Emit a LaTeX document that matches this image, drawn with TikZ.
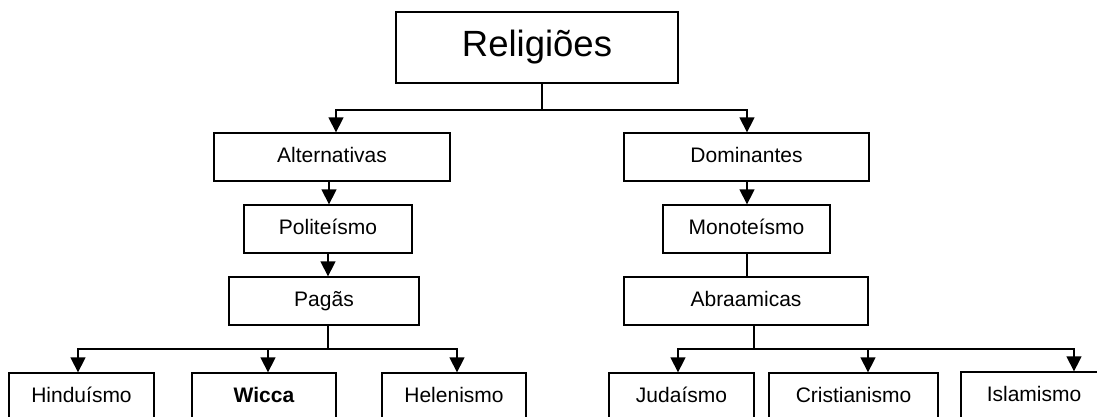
\documentclass[tikz,border=0pt]{standalone}
\usepackage{fontspec}
\setmainfont{Liberation Sans}
\usetikzlibrary{arrows.meta}
\tikzset{
  box/.style={draw=black, line width=1.3pt, fill=white, rectangle, inner sep=0pt, align=center, text height=15pt, text depth=4.5pt, font=\fontsize{21}{24}\selectfont},
  bigbox/.style={box, text height=26pt, text depth=8pt, font=\fontsize{36.5}{40}\selectfont},
  conn/.style={draw=black, line width=1.3pt},
  arr/.style={conn, -{Triangle[width=15pt,length=15pt]}}
}
\begin{document}
\begin{tikzpicture}[x=1pt,y=-1pt]
\useasboundingbox (0,0) rectangle (1097,416);
\clip (0,0) rectangle (1097,416);
\fill[white] (0,0) rectangle (1097,416);
% nodes
\node[bigbox, minimum width=282pt, minimum height=71pt] (rel) at (537,47.5) {Religiões};
\node[box, minimum width=236pt, minimum height=48pt] (alt) at (332,157) {Alternativas};
\node[box, minimum width=168pt, minimum height=48pt] (pol) at (328,229) {Politeísmo};
\node[box, minimum width=190pt, minimum height=48pt] (pag) at (324,301) {Pagãs};
\node[box, minimum width=145pt, minimum height=48pt] (hin) at (81.5,397) {Hinduísmo};
\node[box, minimum width=144pt, minimum height=48pt] (wic) at (264,397) {\bfseries Wicca};
\node[box, minimum width=144pt, minimum height=48pt] (hel) at (454,397) {Helenismo};
\node[box, minimum width=245pt, minimum height=48pt] (dom) at (746.5,157) {Dominantes};
\node[box, minimum width=167pt, minimum height=48pt] (mon) at (746.5,229) {Monoteísmo};
\node[box, minimum width=244pt, minimum height=48pt] (abr) at (746,301) {Abraamicas};
\node[box, minimum width=145pt, minimum height=48pt] (jud) at (681.5,397) {Judaísmo};
\node[box, minimum width=169pt, minimum height=48pt] (cri) at (853.5,397) {Cristianismo};
\node[box, minimum width=146pt, minimum height=48pt] (isl) at (1034,396) {Islamismo};
% junction coordinates
\coordinate (j0) at (542,110);
\coordinate (j1) at (328,349);
\coordinate (j2) at (754,349);
% top level
\draw[conn] (rel.south -| j0) -- (j0);
\draw[arr] (j0) -| (alt.north -| 336,0);
\draw[arr] (j0) -| (dom.north -| 747,0);
% left branch
\draw[arr] (alt.south -| 329,0) -- (pol.north -| 329,0);
\draw[arr] (pol.south -| 328,0) -- (pag.north -| 328,0);
\draw[conn] (pag.south -| j1) -- (j1);
\draw[arr] (j1) -| (hin.north -| 78,0);
\draw[arr] (j1) -| (wic.north -| 268,0);
\draw[arr] (j1) -| (hel.north -| 457,0);
% right branch
\draw[arr] (dom.south -| 747,0) -- (mon.north -| 747,0);
\draw[conn] (mon.south -| 747,0) -- (abr.north -| 747,0);
\draw[conn] (abr.south -| j2) -- (j2);
\draw[arr] (j2) -| (jud.north -| 678,0);
\draw[arr] (j2) -| (cri.north -| 868,0);
\draw[arr] (j2) -| (isl.north -| 1074,0);
\end{tikzpicture}
\end{document}
